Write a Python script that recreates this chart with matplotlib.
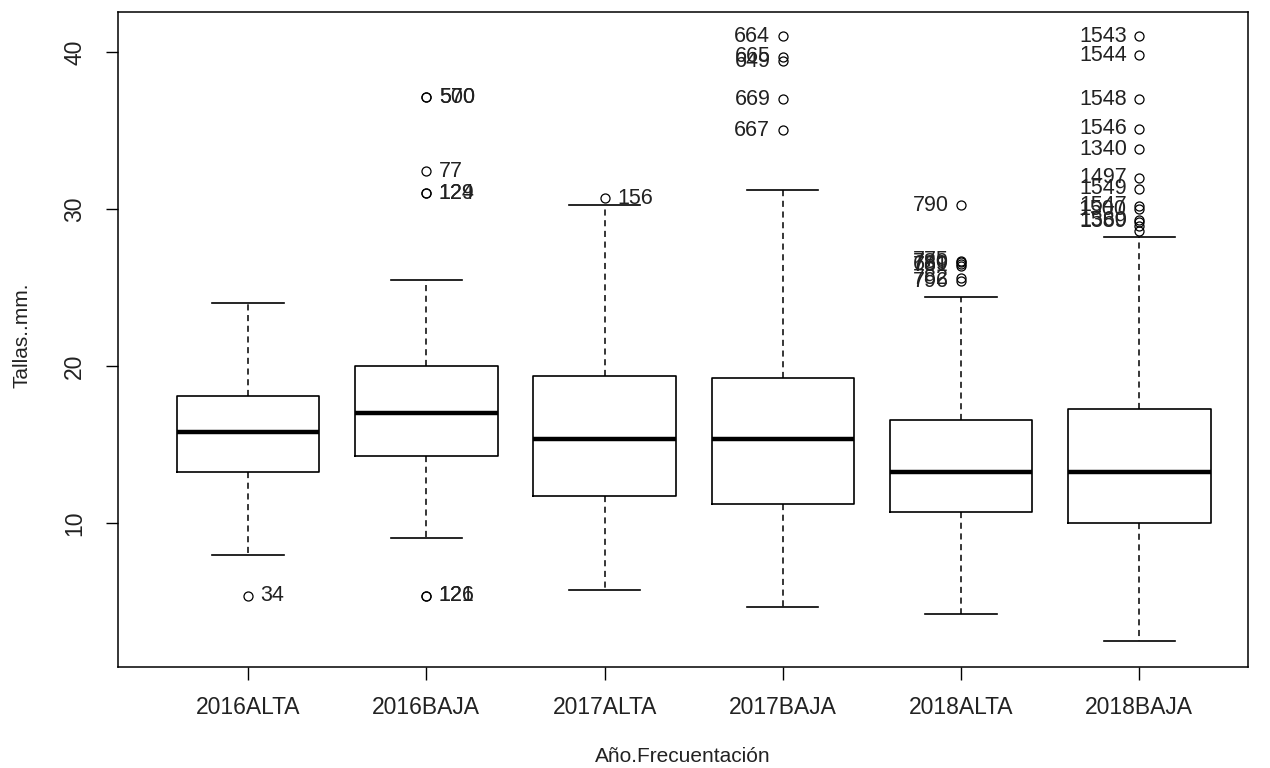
import matplotlib
matplotlib.use("Agg")
import matplotlib.pyplot as plt

plt.rcParams['font.family'] = ['Liberation Sans', 'DejaVu Sans']

# Grupos (Año.Frecuentación) y resumen de cinco números de Tallas..mm.
groups = ["2016ALTA", "2016BAJA", "2017ALTA", "2017BAJA", "2018ALTA", "2018BAJA"]
whislo = [8.0, 9.1, 5.75, 4.7, 4.25, 2.5]
q1 = [13.3, 14.3, 11.75, 11.25, 10.7, 10.0]
med = [15.8, 17.0, 15.35, 15.35, 13.3, 13.25]
q3 = [18.1, 20.0, 19.35, 19.25, 16.55, 17.3]
whishi = [24.0, 25.5, 30.25, 31.2, 24.4, 28.25]

# Valores atípicos por grupo y su identificador de fila
out_2016alta = [5.4]
lab_2016alta = ["34"]
out_2016baja = [37.1, 37.1, 32.4, 31.0, 31.0, 5.4, 5.4]
lab_2016baja = ["570", "500", "77", "129", "124", "126", "121"]
out_2017alta = [30.7]
lab_2017alta = ["156"]
out_2017baja = [41.0, 39.7, 39.4, 37.0, 35.0]
lab_2017baja = ["664", "665", "649", "669", "667"]
out_2018alta = [30.25, 26.7, 26.6, 26.5, 26.4, 25.6, 25.4]
lab_2018alta = ["790", "775", "780", "689", "781", "782", "796"]
out_2018baja = [41.0, 39.8, 37.0, 35.1, 33.8, 32.0, 31.3, 30.2, 30.0, 29.3, 29.2, 28.9, 28.6]
lab_2018baja = ["1543", "1544", "1548", "1546", "1340", "1497", "1549",
                "1547", "1500", "1560", "1389", "", ""]

outliers = [out_2016alta, out_2016baja, out_2017alta, out_2017baja, out_2018alta, out_2018baja]
out_labels = [lab_2016alta, lab_2016baja, lab_2017alta, lab_2017baja, lab_2018alta, lab_2018baja]

fig = plt.figure(figsize=(12.7, 7.68), dpi=100)
ax = fig.add_axes([118 / 1270, 1 - 667 / 768, (1248 - 118) / 1270, (667 - 12) / 768])

stats = []
for i, g in enumerate(groups):
    stats.append(dict(label=g, whislo=whislo[i], q1=q1[i], med=med[i],
                      q3=q3[i], whishi=whishi[i], fliers=outliers[i]))

positions = list(range(1, len(groups) + 1))
ax.bxp(stats, positions=positions, widths=0.8, capwidths=0.4,
       showfliers=True,
       boxprops=dict(color="black", linewidth=1.2),
       medianprops=dict(color="black", linewidth=3.2, solid_capstyle="butt"),
       whiskerprops=dict(color="black", linewidth=1.1, linestyle=(0, (4, 3))),
       capprops=dict(color="black", linewidth=1.2),
       flierprops=dict(marker="o", markersize=6.5, markerfacecolor="none",
                       markeredgecolor="black", markeredgewidth=0.9, linestyle="none"))

# Etiquetas de los atípicos: a la derecha en la primera mitad, a la izquierda en la segunda
n = len(groups)
for i in range(n):
    x = positions[i]
    right = (i + 1) <= n / 2
    for v, lab in zip(outliers[i], out_labels[i]):
        if not lab:
            continue
        if right:
            ax.annotate(lab, (x, v), xytext=(9, 0), textcoords="offset points",
                        ha="left", va="center", fontsize=15.5, color="#222222")
        else:
            ax.annotate(lab, (x, v), xytext=(-9, 0), textcoords="offset points",
                        ha="right", va="center", fontsize=15.5, color="#222222")

ax.set_xlim(0.27, 6.61)
ax.set_ylim(0.86, 42.54)
ax.set_yticks([10, 20, 30, 40])
ax.set_yticklabels(["10", "20", "30", "40"], rotation=90, va="center")
ax.set_xticks(positions)
ax.set_xticklabels(groups)
ax.tick_params(axis="both", direction="out", length=9, width=1.0,
               labelsize=16.5, colors="black", labelcolor="#222222")
ax.tick_params(axis="x", pad=12)
ax.tick_params(axis="y", pad=14)
for s in ax.spines.values():
    s.set_linewidth(1.1)

fig.text(683 / 1270, 1 - 757 / 768, "Año.Frecuentación", ha="center", va="center",
         fontsize=15, color="#222222")
fig.text(22 / 1270, 1 - 335 / 768, "Tallas..mm.", ha="center", va="center",
         rotation=90, fontsize=15, color="#222222")

fig.savefig("out.png", dpi=100, facecolor="white")
